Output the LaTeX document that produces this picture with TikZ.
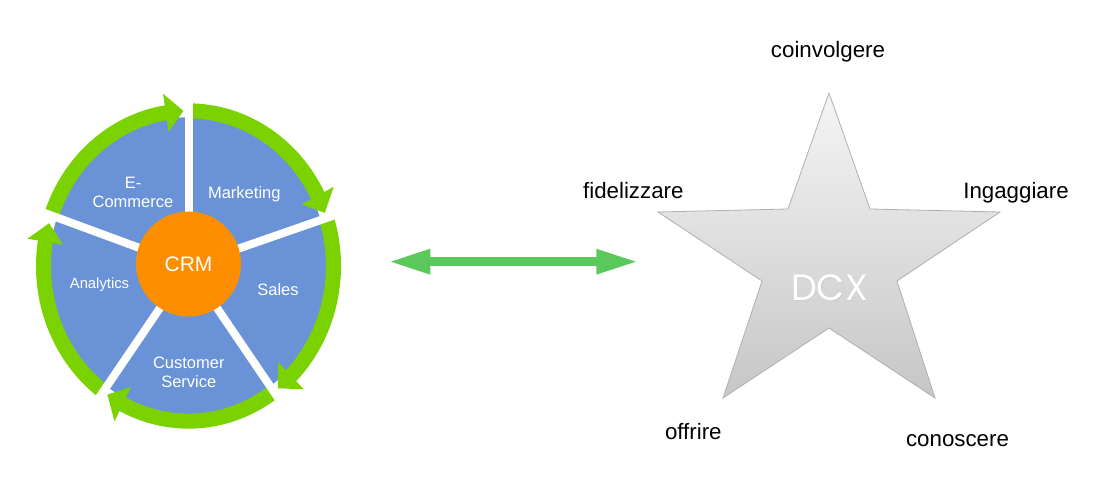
\documentclass[tikz,border=0pt]{standalone}
\usepackage{fontspec}
\setmainfont{Liberation Sans}
\newfontfamily\dcxfont{Poppins}
\usetikzlibrary{arrows.meta}
\definecolor{wheelblue}{HTML}{6A93D7}
\definecolor{ringgreen}{HTML}{7AD300}
\definecolor{crmorange}{HTML}{FD8E00}
\definecolor{arrowgreen}{HTML}{5BC85B}
\definecolor{startop}{HTML}{F5F5F5}
\definecolor{starbot}{HTML}{C6C6C6}
\definecolor{staredge}{HTML}{B0B0B0}
\tikzset{
  seglabel/.style={text=white, font=\fontsize{16.5}{19}\selectfont, inner sep=0pt, anchor=base},
  starlabel/.style={text=black, font=\fontsize{22.3}{26}\selectfont, inner sep=0pt, anchor=base},
  ringarc/.style={draw=ringgreen, line width=15pt},
  ringhead/.style={fill=ringgreen},
  spoke/.style={draw=white, line width=8pt},
  bigarrow/.style={draw=arrowgreen, line width=8.7pt, {Triangle[length=42pt,width=23pt]}-{Triangle[length=42pt,width=23pt]}}
}
\begin{document}
\begin{tikzpicture}[x=1pt,y=1pt]
\useasboundingbox (0,0) rectangle (1112,-497);
\fill[white] (0,0) rectangle (1112,-497);

% ---------- CRM wheel ----------
\begin{scope}[shift={(188.5,-266)}, yscale=1.07]
  \fill[wheelblue] (0,0) circle (139);
  \foreach \s/\b/\t in {161/99/92, 90/27/20, 18/-45/-52, -54/-117/-124, -126/-189/-196}{
    \draw[ringarc] (\s:145) arc[start angle=\s, end angle=\b-0.6, radius=145];
    \fill[ringhead] (\b:127) -- (\b:163) -- (\t:145) -- cycle;
  }
  \foreach \a in {90,18,-54,-126,161}
    \draw[spoke] (0,0) -- (\a:168);
\end{scope}
\node[circle, fill=crmorange, minimum size=105pt, inner sep=0pt, text=white,
      font=\fontsize{21}{24}\selectfont] (crm) at (188.5,-264) {CRM};

\node[seglabel] (ecomA) at (133,-188.5) {E-};
\node[seglabel] (ecomB) at (133,-207.3) {Commerce};
\node[seglabel] (mkt) at (244.3,-198.3) {Marketing};
\node[seglabel, font=\fontsize{14.8}{17}\selectfont] (ana) at (99.5,-288.3) {Analytics};
\node[seglabel] (sales) at (278,-295.7) {Sales};
\node[seglabel] (csA) at (188.8,-368.3) {Customer};
\node[seglabel] (csB) at (188.8,-387.3) {Service};

% ---------- double arrow ----------
\coordinate (al) at (388.3,-261.7);
\coordinate (ar) at (638.3,-261.7);
\draw[bigarrow] (al) -- (ar);

% ---------- DCX star ----------
\shade[top color=startop, bottom color=starbot, draw=staredge, line width=0.8pt]
  (829,-93) -- (870,-209) -- (1000,-212) -- (897,-281) -- (935,-398)
  -- (829,-328) -- (723,-398) -- (762,-281) -- (658,-212) -- (788,-209) -- cycle;
\node[text=black!20, font=\dcxfont\fontsize{36.5}{40}\selectfont, inner sep=0pt] at (830.1,-288.8) {DCX};
\node[text=white, font=\dcxfont\fontsize{36.5}{40}\selectfont, inner sep=0pt] (dcx) at (829.5,-287.7) {DCX};

\node[starlabel] (coin) at (828,-57.3) {coinvolgere};
\node[starlabel] (fid) at (633.3,-198.3) {fidelizzare};
\node[starlabel] (ing) at (1016,-198.3) {Ingaggiare};
\node[starlabel] (off) at (693.3,-439.3) {offrire};
\node[starlabel] (con) at (957.5,-446) {conoscere};
\end{tikzpicture}
\end{document}
